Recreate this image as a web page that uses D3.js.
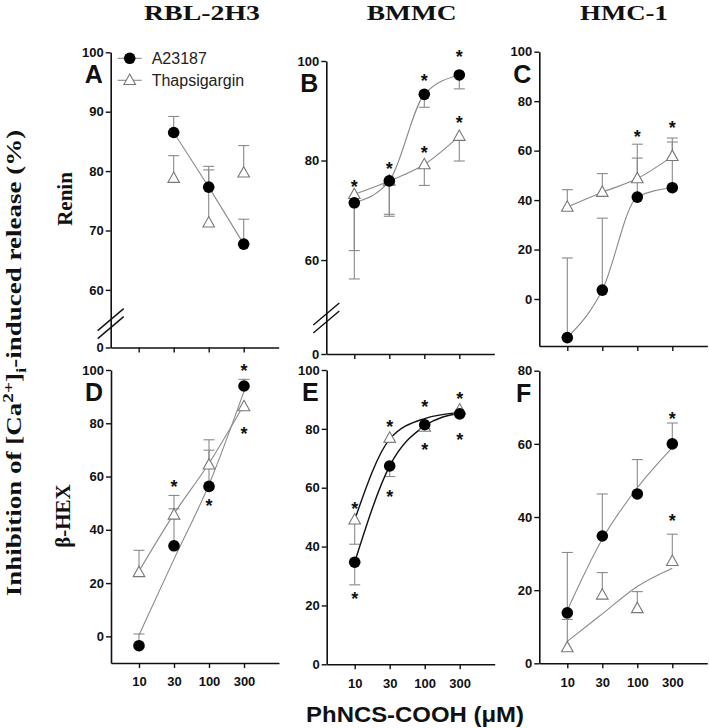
<!DOCTYPE html>
<html><head><meta charset="utf-8">
<script src="https://cdn.jsdelivr.net/npm/d3@7"></script>
<style>body{margin:0;background:#fff} svg{display:block}</style>
</head><body><svg id="chart" width="709" height="728"></svg>
<script>
// ---------------- DATA ----------------
const doses = ["10", "30", "100", "300"];
const seriesNames = ["A23187", "Thapsigargin"];
const columnTitles = ["RBL-2H3", "BMMC", "HMC-1"];
const rowTitles = ["Renin", "β-HEX"];
const panelLetters = ["A", "B", "C", "D", "E", "F"];

// Panel A (RBL-2H3, renin)
const A_a23187 = [null, 86.5, 77.3, 67.7];
const A_a23187_err = [null, 89.2, 80.8, 71.9];
const A_a23187_fit = [null, 86.5, 77.3, 67.7];
const A_thap = [null, 78.8, 71.3, 79.7];
const A_thap_err = [null, 82.6, 80.2, 84.3];
const A_thap_fit = null;
const A_yTicks = [0, 60, 70, 80, 90, 100];
const A_stars = [];

// Panel B (BMMC, renin)
const B_a23187 = [71.5, 75.9, 93.3, 97.2];
const B_a23187_err = [61.9, 69.2, 90.7, 94.4];
const B_a23187_fit = [71.5, 75.9, 93.3, 97.2];
const B_thap = [73.2, 75.9, 79.2, 84.9];
const B_thap_err = [56.2, 68.8, 75.0, 79.9];
const B_thap_fit = [73.2, 75.9, 79.2, 84.9];
const B_yTicks = [0, 60, 80, 100];
const B_stars = [[0, 75.5], [1, 79.1], [2, 96.8], [2, 82.3], [3, 101.7], [3, 88.3]];

// Panel C (HMC-1, renin)
const C_a23187 = [-15.6, 3.6, 41.2, 45.0];
const C_a23187_err = [16.6, 32.7, 57.0, 63.5];
const C_a23187_fit = [-15.6, 3.6, 41.2, 45.0];
const C_thap = [37.2, 43.2, 48.7, 57.7];
const C_thap_err = [44.2, 50.7, 62.6, 65.1];
const C_thap_fit = [37.2, 43.2, 48.7, 57.7];
const C_yTicks = [0, 20, 40, 60, 80, 100];
const C_stars = [[2, 67.2], [3, 70.7]];

// Panel D (RBL-2H3, beta-hexosaminidase)
const D_a23187 = [-3.5, 34.0, 56.3, 94.0];
const D_a23187_err = [0.9, 47.9, 69.9, 96.5];
const D_a23187_fit = [0.5, 29.0, 57.0, 92.0];
const D_thap = [24.0, 45.6, 64.4, 86.3];
const D_thap_err = [32.3, 52.9, 73.8, null];
const D_thap_fit = [24.5, 46.0, 65.0, 87.0];
const D_yTicks = [0, 20, 40, 60, 80, 100];
const D_stars = [[1, 57.5], [2, 50.6], [3, 101.0], [3, 77.5]];

// Panel E (BMMC, beta-hexosaminidase)
const E_a23187 = [34.7, 67.4, 81.4, 85.1];
const E_a23187_err = [27.0, 63.8, 80.0, null];
const E_a23187_fit = [34.7, 67.4, 81.0, 85.3];
const E_thap = [49.1, 76.9, 80.6, 86.5];
const E_thap_err = [40.8, 75.4, null, null];
const E_thap_fit = [49.1, 76.5, 83.5, 85.5];
const E_yTicks = [0, 20, 40, 60, 80, 100];
const E_stars = [[0, 54.1], [0, 23.5], [1, 82.1], [1, 58.3], [2, 88.9], [2, 74.2], [3, 91.5], [3, 77.6]];

// Panel F (HMC-1, beta-hexosaminidase)
const F_a23187 = [13.8, 34.8, 46.3, 60.0];
const F_a23187_err = [30.3, 46.3, 55.7, 65.7];
const F_a23187_fit = [14.5, 34.0, 48.0, 59.0];
const F_thap = [4.3, 18.7, 15.0, 27.9];
const F_thap_err = [12.0, 24.8, 19.6, 35.3];
const F_thap_fit = [6.0, 13.5, 21.0, 26.0];
const F_yTicks = [0, 20, 40, 60, 80];
const F_stars = [[3, 67.8], [3, 39.9]];

// ---------------- LAYOUT ----------------
const sans = "'Liberation Sans', Arial, sans-serif";
const serif = "'Liberation Serif', 'Times New Roman', serif";
const gray = "#8a8a8a";

const panels = [
  {letter: panelLetters[0], x0: 110.7, axisY: 347.5, yDom: [0, 57, 100], yRng: [347.5, 307.7, 52.3], ticks: A_yTicks, brk: true, bottom: false,
   circ: [A_a23187, A_a23187_err, A_a23187_fit], tri: [A_thap, A_thap_err, A_thap_fit], stars: A_stars, lineColor: gray, legend: true},
  {letter: panelLetters[1], x0: 326.3, axisY: 354, yDom: [0, 54, 100], yRng: [354, 289.9, 61], ticks: B_yTicks, brk: true, bottom: false,
   circ: [B_a23187, B_a23187_err, B_a23187_fit], tri: [B_thap, B_thap_err, B_thap_fit], stars: B_stars, lineColor: gray},
  {letter: panelLetters[2], x0: 539.3, axisY: 346, yDom: [-19, 100], yRng: [346, 51.7], ticks: C_yTicks, brk: false, bottom: false,
   circ: [C_a23187, C_a23187_err, C_a23187_fit], tri: [C_thap, C_thap_err, C_thap_fit], stars: C_stars, lineColor: gray},
  {letter: panelLetters[3], x0: 111, axisY: 663, yDom: [-10, 100], yRng: [663, 370], ticks: D_yTicks, brk: false, bottom: true,
   circ: [D_a23187, D_a23187_err, D_a23187_fit], tri: [D_thap, D_thap_err, D_thap_fit], stars: D_stars, lineColor: gray},
  {letter: panelLetters[4], x0: 326.7, axisY: 664.3, yDom: [0, 100], yRng: [664.3, 370], ticks: E_yTicks, brk: false, bottom: true,
   circ: [E_a23187, E_a23187_err, E_a23187_fit], tri: [E_thap, E_thap_err, E_thap_fit], stars: E_stars, lineColor: "#111"},
  {letter: panelLetters[5], x0: 539.3, axisY: 663.3, yDom: [0, 80], yRng: [663.3, 370.7], ticks: F_yTicks, brk: false, bottom: true,
   circ: [F_a23187, F_a23187_err, F_a23187_fit], tri: [F_thap, F_thap_err, F_thap_fit], stars: F_stars, lineColor: gray}
];

const svg = d3.select("#chart");
const triPath = "M0,-6.2L5.8,4.2L-5.8,4.2Z";

function stretchText(sel, target) {
  const w = sel.node().getBBox().width;
  sel.attr("transform", `scale(${target / w},1)`);
}

panels.forEach(p => {
  const g = svg.append("g");
  const x = d3.scaleLinear().domain([-0.8, 4.0]).range([p.x0, p.x0 + 168]);
  const y = d3.scaleLinear().domain(p.yDom).range(p.yRng);
  const top = p.yRng[p.yRng.length - 1];

  // y axis
  const ya = g.append("g").attr("transform", `translate(${p.x0},0)`)
    .call(d3.axisLeft(y).tickValues(p.ticks).tickSize(5).tickSizeOuter(0).tickPadding(2));
  ya.select(".domain").attr("stroke", "#111").attr("stroke-width", 1.6);
  ya.selectAll(".tick line").attr("stroke", "#111").attr("stroke-width", 1.4);
  ya.selectAll(".tick text").attr("font-family", sans).attr("font-weight", "bold").attr("font-size", 13).attr("fill", "#111");

  // x axis
  const xa = g.append("g").attr("transform", `translate(0,${p.axisY})`)
    .call(d3.axisBottom(x).tickValues([0, 1, 2, 3]).tickFormat(i => p.bottom ? doses[i] : "").tickSize(5).tickSizeOuter(0).tickPadding(9));
  xa.select(".domain").attr("stroke", "#111").attr("stroke-width", 1.6);
  xa.selectAll(".tick line").attr("stroke", "#111").attr("stroke-width", 1.4);
  xa.selectAll(".tick text").attr("font-family", sans).attr("font-weight", "bold").attr("font-size", 13).attr("fill", "#111");

  // axis break
  if (p.brk) {
    const yb = (y(p.yDom[1]) + y(0)) / 2;
    [yb - 8, yb].forEach(cy => {
      g.append("line").attr("x1", p.x0 - 13).attr("y1", cy + 11).attr("x2", p.x0 + 13).attr("y2", cy - 11)
        .attr("stroke", "#111").attr("stroke-width", 1.4);
    });
  }

  // panel letter
  g.append("text").attr("x", p.x0 - 8).attr("y", top + 31).attr("text-anchor", "end")
    .attr("font-family", sans).attr("font-weight", "bold").attr("font-size", 25).attr("fill", "#111").text(p.letter);

  const line = d3.line().defined(d => d[1] != null).x(d => x(d[0])).y(d => y(d[1])).curve(d3.curveMonotoneX);

  // error bars
  [p.circ, p.tri].forEach(s => {
    s[0].forEach((v, i) => {
      const e = s[1][i];
      if (v == null || e == null) return;
      g.append("line").attr("x1", x(i)).attr("x2", x(i)).attr("y1", y(v)).attr("y2", y(e)).attr("stroke", gray).attr("stroke-width", 1.1);
      g.append("line").attr("x1", x(i) - 5.5).attr("x2", x(i) + 5.5).attr("y1", y(e)).attr("y2", y(e)).attr("stroke", gray).attr("stroke-width", 1.1);
    });
  });

  // fit lines
  [p.circ, p.tri].forEach(s => {
    if (!s[2]) return;
    g.append("path").attr("d", line(s[2].map((v, i) => [i, v]))).attr("fill", "none")
      .attr("stroke", p.lineColor).attr("stroke-width", p.lineColor === gray ? 1.1 : 1.4);
  });

  // triangles
  p.tri[0].forEach((v, i) => {
    if (v == null) return;
    g.append("path").attr("d", triPath).attr("transform", `translate(${x(i)},${y(v)})`)
      .attr("fill", "#fff").attr("stroke", "#777").attr("stroke-width", 1.1);
  });
  // circles
  p.circ[0].forEach((v, i) => {
    if (v == null) return;
    g.append("circle").attr("cx", x(i)).attr("cy", y(v)).attr("r", 5.8).attr("fill", "#000");
  });
  // stars
  p.stars.forEach(s => {
    g.append("text").attr("x", x(s[0])).attr("y", y(s[1]) + 10).attr("text-anchor", "middle")
      .attr("font-family", sans).attr("font-weight", "bold").attr("font-size", 18).attr("fill", "#111").text("*");
  });

  // legend
  if (p.legend) {
    const lx = p.x0 + 19, ly1 = 58.3, ly2 = 80.3;
    g.append("line").attr("x1", lx - 12).attr("x2", lx + 12).attr("y1", ly1).attr("y2", ly1).attr("stroke", gray).attr("stroke-width", 1.1);
    g.append("circle").attr("cx", lx).attr("cy", ly1).attr("r", 5.8).attr("fill", "#000");
    g.append("line").attr("x1", lx - 12).attr("x2", lx + 12).attr("y1", ly2).attr("y2", ly2).attr("stroke", gray).attr("stroke-width", 1.1);
    g.append("path").attr("d", triPath).attr("transform", `translate(${lx},${ly2})`).attr("fill", "#fff").attr("stroke", "#777").attr("stroke-width", 1.1);
    g.append("text").attr("x", lx + 22).attr("y", ly1 + 5.8).attr("font-family", sans).attr("font-size", 16).attr("fill", "#222").text(seriesNames[0]);
    g.append("text").attr("x", lx + 22).attr("y", ly2 + 5.8).attr("font-family", sans).attr("font-size", 16).attr("fill", "#222").text(seriesNames[1]);
  }
});

// column titles
const colCenters = [202, 411.7, 624];
const colWidths = [116, 90, 88];
columnTitles.forEach((t, i) => {
  const gg = svg.append("g").attr("transform", `translate(${colCenters[i]},20)`);
  const tx = gg.append("text").attr("text-anchor", "middle").attr("font-family", serif).attr("font-weight", "bold")
    .attr("font-size", 22).attr("fill", "#111").text(t);
  stretchText(tx, colWidths[i]);
});

// row titles
const rowCenters = [199, 516];
const rowBase = [71.5, 70];
rowTitles.forEach((t, i) => {
  svg.append("text").attr("transform", `translate(${rowBase[i]},${rowCenters[i]}) rotate(-90)`).attr("text-anchor", "middle")
    .attr("font-family", serif).attr("font-weight", "bold").attr("font-size", 21).attr("fill", "#111").text(t);
});

// main y label
{
  const gg = svg.append("g").attr("transform", "translate(20.5,363) rotate(-90)");
  const tx = gg.append("text").attr("text-anchor", "middle").attr("font-family", serif).attr("font-weight", "bold")
    .attr("font-size", 21).attr("fill", "#111");
  tx.append("tspan").text("Inhibition of [Ca");
  tx.append("tspan").attr("font-size", 15).attr("dy", -8).text("2+");
  tx.append("tspan").attr("dy", 8).text("]");
  tx.append("tspan").attr("font-size", 15).attr("dy", 5).text("i");
  tx.append("tspan").attr("dy", -5).text("-induced release (%)");
  stretchText(tx, 467);
}

// x label
{
  const gg = svg.append("g").attr("transform", "translate(415,722)");
  const tx = gg.append("text").attr("text-anchor", "middle").attr("font-family", sans).attr("font-weight", "bold")
    .attr("font-size", 22).attr("fill", "#111").text("PhNCS-COOH (μM)");
  stretchText(tx, 218);
}
</script>
</body></html>
